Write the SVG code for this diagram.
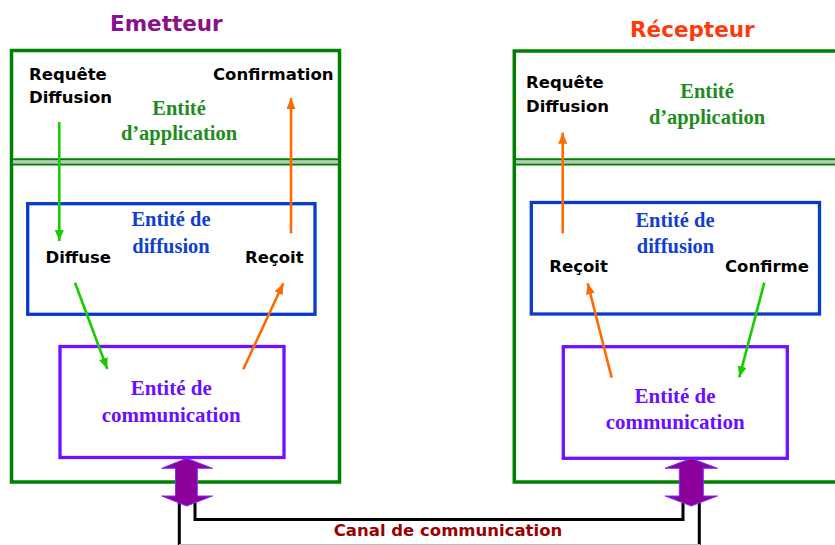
<svg xmlns="http://www.w3.org/2000/svg" width="835" height="545" viewBox="0 0 835 545">
  <defs>
    <style>
      .frame { fill: none; stroke: #008000; stroke-width: 3.5; }
      .sep { stroke: #008000; stroke-width: 2; }
      .band { fill: #b9c9b9; }
      .diff { fill: none; stroke: #0a3ccc; stroke-width: 3.3; }
      .comm { fill: none; stroke: #7010ff; stroke-width: 3.3; }
      .lbl { font-family: "DejaVu Sans", Verdana, sans-serif; font-weight: bold; font-size: 16.5px; fill: #000; }
      .title { font-family: "DejaVu Sans", Verdana, sans-serif; font-weight: bold; font-size: 21.5px; }
      .ent { font-family: "Liberation Serif", "Times New Roman", serif; font-weight: bold; font-size: 20.5px; text-anchor: middle; }
      .app { fill: #1e8c1e; }
      .bdiff { fill: #1040cc; }
      .bcomm { fill: #6a10ff; }
      .g { stroke: #18cc00; stroke-width: 2.6; fill: none; }
      .o { stroke: #ff6a00; stroke-width: 2.6; fill: none; }
      .dbl { fill: #8c009c; stroke: #7f30ff; stroke-width: 1; }
      .wire { fill: none; stroke: #000; stroke-width: 3; }
    </style>
    <marker id="hg" viewBox="0 0 11 9" refX="11" refY="4.5" markerUnits="userSpaceOnUse" markerWidth="11" markerHeight="9" orient="auto">
      <path d="M0,0 L11,4.5 L0,9 Z" fill="#18cc00"/>
    </marker>
    <marker id="ho" viewBox="0 0 11 9" refX="11" refY="4.5" markerUnits="userSpaceOnUse" markerWidth="11" markerHeight="9" orient="auto">
      <path d="M0,0 L11,4.5 L0,9 Z" fill="#ff6a00"/>
    </marker>
  </defs>

  <rect width="835" height="545" fill="#fff"/>

  <!-- Sender station -->
  <g id="emetteur">
    <text class="title" x="110" y="31" fill="#8b108b">Emetteur</text>
    <rect class="frame" x="11.5" y="50.5" width="328" height="431.5"/>
    <rect class="band" x="13" y="160.3" width="325" height="3"/>
    <line class="sep" x1="13" y1="159.3" x2="338" y2="159.3"/>
    <line class="sep" x1="13" y1="164.5" x2="338" y2="164.5"/>
  </g>
  <g id="emetteur-application">
    <text class="lbl" x="29" y="80">Requête</text>
    <text class="lbl" x="29" y="103">Diffusion</text>
    <text class="lbl" x="213" y="80">Confirmation</text>
    <text class="ent app" x="179" y="115">Entité</text>
    <text class="ent app" x="179" y="140">d’application</text>
  </g>
  <g id="emetteur-diffusion">
    <rect class="diff" x="27.7" y="203.7" width="287.3" height="110.6"/>
    <text class="ent bdiff" x="171" y="226">Entité de</text>
    <text class="ent bdiff" x="171" y="252.7">diffusion</text>
    <text class="lbl" x="45.5" y="263.3">Diffuse</text>
    <text class="lbl" x="245" y="263.3">Reçoit</text>
  </g>
  <g id="emetteur-communication">
    <rect class="comm" x="60" y="346.5" width="224" height="111"/>
    <text class="ent bcomm" x="171.2" y="395" style="font-size:21px">Entité de</text>
    <text class="ent bcomm" x="171.2" y="421.7" style="font-size:21px">communication</text>
  </g>

  <!-- Receiver station -->
  <g id="recepteur">
    <text class="title" x="630" y="37" fill="#ff3a0a">Récepteur</text>
    <rect class="frame" x="514.3" y="51" width="340" height="431"/>
    <rect class="band" x="516" y="160.3" width="320" height="3"/>
    <line class="sep" x1="516" y1="159.3" x2="835" y2="159.3"/>
    <line class="sep" x1="516" y1="164.5" x2="835" y2="164.5"/>
  </g>
  <g id="recepteur-application">
    <text class="lbl" x="526" y="87.5">Requête</text>
    <text class="lbl" x="526" y="111.7">Diffusion</text>
    <text class="ent app" x="707" y="98.3">Entité</text>
    <text class="ent app" x="707" y="124.3">d’application</text>
  </g>
  <g id="recepteur-diffusion">
    <rect class="diff" x="531.3" y="202.5" width="288.2" height="111.5"/>
    <text class="ent bdiff" x="675" y="226.7">Entité de</text>
    <text class="ent bdiff" x="675.5" y="252.7">diffusion</text>
    <text class="lbl" x="549.3" y="271.7">Reçoit</text>
    <text class="lbl" x="725" y="271.7">Confirme</text>
  </g>
  <g id="recepteur-communication">
    <rect class="comm" x="563.3" y="346.7" width="224" height="111.6"/>
    <text class="ent bcomm" x="675" y="402.7" style="font-size:21px">Entité de</text>
    <text class="ent bcomm" x="675.2" y="429.3" style="font-size:21px">communication</text>
  </g>

  <!-- Channel between the two communication entities -->
  <g id="canal">
    <path class="wire" d="M195,503 V519.5 H683 V503"/>
    <path class="wire" d="M179.3,503 V545"/>
    <path class="wire" d="M699.3,503 V545"/>
    <line x1="179" y1="544.5" x2="700" y2="544.5" stroke="#bbbbbb" stroke-width="1"/>
    <text x="448" y="536" text-anchor="middle" font-family="DejaVu Sans, Verdana, sans-serif" font-weight="bold" font-size="16.5" fill="#990000">Canal de communication</text>
  </g>

  <!-- Connectors -->
  <g id="connectors">
    <line class="g" x1="59.3" y1="122" x2="59.3" y2="241" marker-end="url(#hg)"/>
    <line class="o" x1="291" y1="233.3" x2="291" y2="98" marker-end="url(#ho)"/>
    <line class="g" x1="75" y1="282.7" x2="107.3" y2="369" marker-end="url(#hg)"/>
    <line class="o" x1="243.3" y1="369.3" x2="283.3" y2="283.3" marker-end="url(#ho)"/>
    <line class="o" x1="562.7" y1="233.3" x2="562.7" y2="132.7" marker-end="url(#ho)"/>
    <line class="o" x1="611.7" y1="377.7" x2="587.7" y2="283.3" marker-end="url(#ho)"/>
    <line class="g" x1="764.3" y1="282.7" x2="739.3" y2="377.3" marker-end="url(#hg)"/>
    <polygon class="dbl" points="186.7,458.3 212.5,468.3 197.3,468.3 197.3,496 212.5,496 186.7,506 161.7,496 175.5,496 175.5,468.3 161.7,468.3"/>
    <polygon class="dbl" points="691.3,458.3 717.5,468.3 703.3,468.3 703.3,496 717.5,496 691.3,506 665,496 679.3,496 679.3,468.3 665,468.3"/>
  </g>
</svg>
